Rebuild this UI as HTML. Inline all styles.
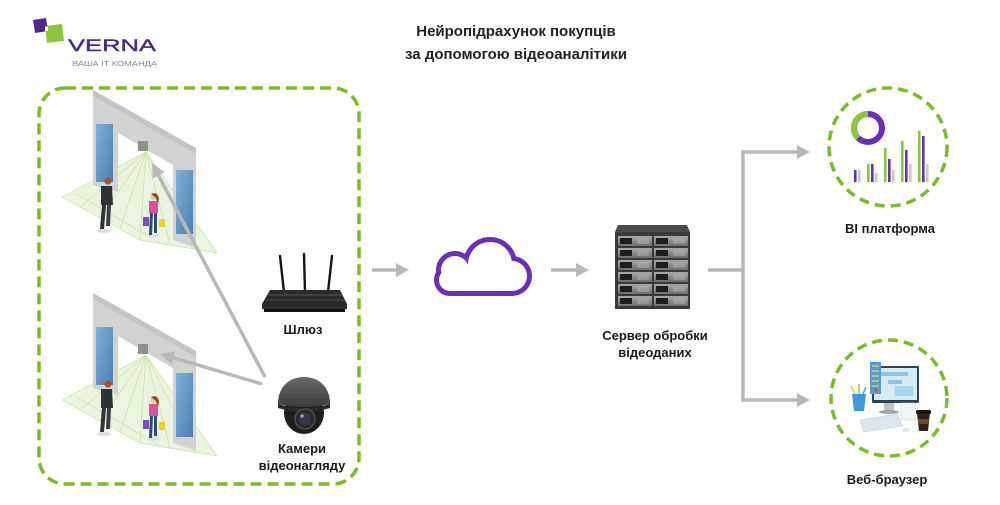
<!DOCTYPE html>
<html><head><meta charset="utf-8"><style>
html,body{margin:0;padding:0;background:#fff;}
svg{display:block;}
text{font-family:"Liberation Sans","DejaVu Sans",sans-serif;}
</style></head><body>
<svg width="1000" height="505" viewBox="0 0 1000 505" xmlns="http://www.w3.org/2000/svg">
<defs>
<linearGradient id="pane" x1="0" y1="0" x2="1" y2="1"><stop offset="0" stop-color="#7fb0dc"/><stop offset="1" stop-color="#4d7fae"/></linearGradient>
<linearGradient id="unit" x1="0" y1="0" x2="0" y2="1"><stop offset="0" stop-color="#a8a8a8"/><stop offset="1" stop-color="#6e6e6e"/></linearGradient>
<linearGradient id="cam" x1="0" y1="0" x2="0" y2="1"><stop offset="0" stop-color="#6a6a6a"/><stop offset="1" stop-color="#3a3a3a"/></linearGradient>
<g id="door">
  <polygon points="146,152 62,197 140,240 217,253" fill="#e3f0d2" opacity="0.7"/>
  <g stroke="#c9e2a8" stroke-width="0.7" fill="none">
    <line x1="146" y1="152" x2="62" y2="197"/><line x1="146" y1="152" x2="80" y2="207"/>
    <line x1="146" y1="152" x2="100" y2="218"/><line x1="146" y1="152" x2="120" y2="229"/>
    <line x1="146" y1="152" x2="140" y2="240"/><line x1="146" y1="152" x2="170" y2="245"/>
    <line x1="146" y1="152" x2="195" y2="249"/><line x1="146" y1="152" x2="217" y2="253"/>
    <line x1="62" y1="197" x2="140" y2="240"/><line x1="75" y1="193" x2="160" y2="243"/>
    <line x1="140" y1="240" x2="217" y2="253"/>
  </g>
  <polygon points="93,90 196,148 196,248 173,240 173,165 118,133 118,192 93,185" fill="#d2d2d2"/>
  <polygon points="93,90 196,148 196,154 93,96" fill="#c4c4c4"/>
  <rect x="96" y="124" width="17" height="58" fill="url(#pane)"/>
  <rect x="176" y="170" width="17" height="64" fill="url(#pane)"/>
  <rect x="138" y="141" width="10" height="10" fill="#8f8f8f"/>
  <!-- man -->
  <ellipse cx="104" cy="231" rx="7" ry="2" fill="#ddd"/>
  <circle cx="108" cy="181" r="3.6" fill="#a0522d"/>
  <path d="M101,186 L112,186 L113,205 L101,205 Z" fill="#2f3439"/>
  <path d="M102,205 L106,205 L104,229 L100,229 Z" fill="#2f3439"/>
  <path d="M107,205 L111,205 L110,226 L106,226 Z" fill="#3a3f45"/>
  <!-- woman -->
  <ellipse cx="154" cy="236" rx="6" ry="1.8" fill="#ddd"/>
  <circle cx="154" cy="197" r="3.3" fill="#f0c8a0"/>
  <path d="M151,194 Q157,191 159,198 L158,205 L156,198 Z" fill="#8b4a2b"/>
  <path d="M149,201 L158,201 L158,213 L149,213 Z" fill="#e0509a"/>
  <path d="M150,213 L153,213 L152,235 L149,235 Z" fill="#2b4a78"/>
  <path d="M154,213 L157,213 L157,233 L154,233 Z" fill="#2b4a78"/>
  <rect x="143" y="217" width="6" height="9" fill="#7b4fb8"/>
  <rect x="159" y="219" width="6" height="8" fill="#f2d022"/>
</g>
</defs>

<!-- Logo -->
<polygon points="33,20 46,18 48,31 35,33" fill="#4d2a8a"/>
<polygon points="45,26 62,24 64,41 47,43" fill="#8cc63f"/>
<rect x="45" y="27" width="3" height="4" fill="#fff"/>
<text x="68" y="51" font-size="17" fill="#4b2a87" stroke="#4b2a87" stroke-width="0.4" textLength="88" lengthAdjust="spacingAndGlyphs">VERNA</text>
<text x="72" y="66" font-size="7.5" fill="#8a8a8a" textLength="85" lengthAdjust="spacingAndGlyphs">ВАША  IT КОМАНДА</text>

<!-- Title -->
<text x="516" y="36" font-size="15" font-weight="bold" fill="#222" text-anchor="middle">Нейропідрахунок покупців</text>
<text x="516" y="59" font-size="15" font-weight="bold" fill="#222" text-anchor="middle">за допомогою відеоаналітики</text>

<!-- Dashed group -->
<rect x="39" y="88" width="320" height="396" rx="26" fill="none" stroke="#7dba2a" stroke-width="3.5" stroke-dasharray="11 6"/>

<use href="#door"/>
<use href="#door" transform="translate(0,203)"/>

<!-- diagonal arrows -->
<line x1="265" y1="377" x2="158.5" y2="175.4" stroke="#b8b8b8" stroke-width="3.5"/>
<polygon points="152,163 164.5,172.2 152.7,178.5" fill="#b8b8b8"/>
<line x1="262" y1="384" x2="173.5" y2="357.8" stroke="#b8b8b8" stroke-width="3.5"/>
<polygon points="160,354 175.4,351.2 171.6,364.4" fill="#b8b8b8"/>

<!-- Router -->
<g stroke="#151515" stroke-width="2.4" stroke-linecap="round">
  <line x1="280" y1="256" x2="284" y2="292"/>
  <line x1="304" y1="254" x2="305" y2="292"/>
  <line x1="332" y1="256" x2="328" y2="292"/>
</g>
<polygon points="270,290 340,290 347,304 347,309 262,309 262,304" fill="#2b2b2b"/>
<line x1="268" y1="295" x2="342" y2="295" stroke="#555" stroke-width="1"/>
<line x1="265" y1="300" x2="345" y2="300" stroke="#4a4a4a" stroke-width="1"/>
<rect x="264" y="309" width="81" height="3" fill="#111"/>
<text x="303" y="334" font-size="13" font-weight="bold" fill="#1a1a1a" text-anchor="middle">Шлюз</text>

<!-- Camera -->
<ellipse cx="304" cy="413" rx="20" ry="21" fill="#1e1e1e"/>
<path d="M278,404 C278,386 290,377 304,377 C318,377 330,386 330,404 Q304,410 278,404 Z" fill="url(#cam)"/>
<path d="M278,404 Q304,412 330,404 L330,408 Q304,416 278,408 Z" fill="#2a2a2a"/>
<circle cx="305" cy="419" r="10" fill="#2a2a2a" stroke="#555" stroke-width="1.2"/>
<circle cx="305" cy="419" r="6" fill="#3c3550"/>
<circle cx="302" cy="416" r="1.8" fill="#9a9ab0"/>
<text x="302" y="453" font-size="13" font-weight="bold" fill="#1a1a1a" text-anchor="middle">Камери</text>
<text x="302" y="470" font-size="13" font-weight="bold" fill="#1a1a1a" text-anchor="middle">відеонагляду</text>

<!-- arrow 1 -->
<line x1="372" y1="270" x2="397" y2="270" stroke="#b8b8b8" stroke-width="3.5"/>
<polygon points="396,263 409,270 396,277" fill="#b8b8b8"/>

<!-- Cloud -->
<g fill="#6b2fb3" stroke="#6b2fb3" stroke-width="10" stroke-linejoin="round">
  <rect x="450" y="268" width="62" height="23"/>
  <circle cx="450" cy="280" r="11"/>
  <circle cx="455" cy="270" r="14"/>
  <circle cx="490" cy="264" r="22"/>
  <circle cx="512" cy="276" r="15"/>
</g>
<g fill="#fff">
  <rect x="450" y="268" width="62" height="23"/>
  <circle cx="450" cy="280" r="11"/>
  <circle cx="455" cy="270" r="14"/>
  <circle cx="490" cy="264" r="22"/>
  <circle cx="512" cy="276" r="15"/>
</g>

<!-- arrow 2 -->
<line x1="551" y1="270" x2="577" y2="270" stroke="#b8b8b8" stroke-width="3.5"/>
<polygon points="576,263 589,270 576,277" fill="#b8b8b8"/>

<!-- Server -->
<polygon points="618,225 687,225 690,232 615,232" fill="#4a4a4a"/>
<rect x="615" y="232" width="75" height="77" fill="#3a3a3a"/>
<g>
  <g id="srow">
    <rect x="618" y="236" width="34" height="10" fill="url(#unit)"/>
    <rect x="620" y="238" width="12" height="6" fill="#1e1e1e"/>
    <line x1="637" y1="239" x2="649" y2="239" stroke="#bbb" stroke-width="0.8"/>
    <line x1="637" y1="241" x2="649" y2="241" stroke="#bbb" stroke-width="0.8"/>
    <line x1="637" y1="243" x2="649" y2="243" stroke="#bbb" stroke-width="0.8"/>
    <rect x="654" y="236" width="34" height="10" fill="url(#unit)"/>
    <rect x="656" y="238" width="12" height="6" fill="#1e1e1e"/>
    <line x1="673" y1="239" x2="685" y2="239" stroke="#bbb" stroke-width="0.8"/>
    <line x1="673" y1="241" x2="685" y2="241" stroke="#bbb" stroke-width="0.8"/>
    <line x1="673" y1="243" x2="685" y2="243" stroke="#bbb" stroke-width="0.8"/>
  </g>
  <use href="#srow" transform="translate(0,12)"/>
  <use href="#srow" transform="translate(0,24)"/>
  <use href="#srow" transform="translate(0,36)"/>
  <use href="#srow" transform="translate(0,48)"/>
  <use href="#srow" transform="translate(0,60)"/>
</g>
<text x="655" y="340" font-size="13" font-weight="bold" fill="#1a1a1a" text-anchor="middle">Сервер обробки</text>
<text x="655" y="357" font-size="13" font-weight="bold" fill="#1a1a1a" text-anchor="middle">відеоданих</text>

<!-- Branch connectors -->
<g stroke="#b8b8b8" stroke-width="3.5" fill="none">
  <line x1="708" y1="270" x2="743" y2="270"/>
  <line x1="743" y1="152" x2="743" y2="400"/>
  <line x1="741" y1="152" x2="798" y2="152"/>
  <line x1="741" y1="400" x2="798" y2="400"/>
</g>
<polygon points="797,145 810,152 797,159" fill="#b8b8b8"/>
<polygon points="797,393 810,400 797,407" fill="#b8b8b8"/>

<!-- BI circle -->
<circle cx="888" cy="147" r="59" fill="none" stroke="#7dba2a" stroke-width="3.5" stroke-dasharray="10 6"/>
<circle cx="868" cy="128" r="14" fill="none" stroke="#6b2fb3" stroke-width="6"/>
<path d="M868,114 A14,14 0 0 0 858,138" fill="none" stroke="#8cc63f" stroke-width="6"/>
<g stroke="#e0e0e0" stroke-width="0.5">
  <line x1="848" y1="182" x2="930" y2="182"/>
</g>
<g>
  <rect x="854" y="170" width="2.6" height="12" fill="#6b2fb3"/>
  <rect x="858" y="170" width="2.6" height="12" fill="#c9c9c9"/>
  <rect x="867" y="164" width="2.6" height="18" fill="#8cc63f"/>
  <rect x="871" y="164" width="2.6" height="18" fill="#6b2fb3"/>
  <rect x="875" y="173" width="2.6" height="9" fill="#c9c9c9"/>
  <rect x="884" y="148" width="2.6" height="34" fill="#8cc63f"/>
  <rect x="888" y="159" width="2.6" height="23" fill="#6b2fb3"/>
  <rect x="892" y="170" width="2.6" height="12" fill="#c9c9c9"/>
  <rect x="901" y="141" width="2.6" height="41" fill="#8cc63f"/>
  <rect x="905" y="150" width="2.6" height="32" fill="#6b2fb3"/>
  <rect x="909" y="164" width="2.6" height="18" fill="#c9c9c9"/>
  <rect x="918" y="131" width="2.6" height="51" fill="#8cc63f"/>
  <rect x="922" y="136" width="2.6" height="46" fill="#6b2fb3"/>
  <rect x="926" y="164" width="2.6" height="18" fill="#c9c9c9"/>
</g>
<text x="890" y="233" font-size="13" font-weight="bold" fill="#1a1a1a" text-anchor="middle">BI платформа</text>

<!-- Web circle -->
<circle cx="889" cy="398" r="58" fill="none" stroke="#7dba2a" stroke-width="3.5" stroke-dasharray="10 6"/>
<rect x="884" y="402" width="10" height="9" fill="#b8c4cf"/>
<ellipse cx="889" cy="412" rx="10" ry="2" fill="#9aa8b4"/>
<rect x="872" y="366" width="47" height="37" rx="1.5" fill="#2d4256"/>
<rect x="874" y="368" width="43" height="32" fill="#d5ebf6"/>
<rect x="878" y="372" width="30" height="4" fill="#8fc3e6"/>
<rect x="888" y="380" width="14" height="4" fill="#8fc3e6"/>
<rect x="895" y="386" width="18" height="10" fill="#a9d4ee"/>
<rect x="870" y="362" width="11" height="32" fill="#5b98cf"/>
<g stroke="#e6e35a" stroke-width="1.2">
  <line x1="872" y1="366" x2="879" y2="366"/><line x1="872" y1="371" x2="879" y2="371"/>
  <line x1="872" y1="376" x2="879" y2="376"/><line x1="872" y1="381" x2="879" y2="381"/>
  <line x1="872" y1="386" x2="879" y2="386"/>
</g>
<circle cx="876" cy="390" r="1.5" fill="#e04a3a"/>
<polygon points="860,420 897,414 903,426 864,432" fill="#dde6ee" stroke="#c2ced9" stroke-width="0.6"/>
<ellipse cx="906" cy="430" rx="3.5" ry="2" fill="#dde6ee"/>
<rect x="901" y="403" width="14" height="17" fill="#f1f3f4" stroke="#cdd4d9" stroke-width="0.6"/>
<g stroke-width="1.4">
  <line x1="856" y1="396" x2="851" y2="386" stroke="#e6c72a"/>
  <line x1="859" y1="395" x2="859" y2="384" stroke="#8cc63f"/>
  <line x1="862" y1="396" x2="866" y2="387" stroke="#3fa0e0"/>
</g>
<path d="M852,394 L866,394 L864,411 L854,411 Z" fill="#3a9bd5"/>
<path d="M917,413 L930,413 L928,431 L919,431 Z" fill="#2a2220"/>
<rect x="916" y="410" width="15" height="4" rx="1.5" fill="#1a1412"/>
<rect x="918" y="419" width="11" height="5" fill="#6b4a30"/>
<text x="887" y="484" font-size="13" font-weight="bold" fill="#1a1a1a" text-anchor="middle">Веб-браузер</text>
</svg>
</body></html>
